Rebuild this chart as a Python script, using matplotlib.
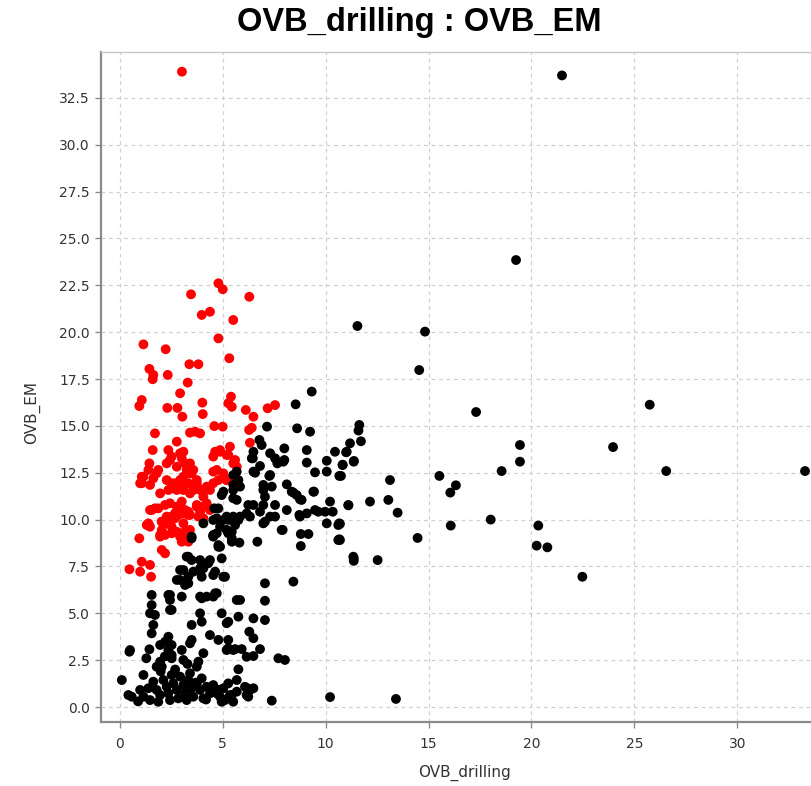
import matplotlib
matplotlib.use("Agg")
import matplotlib.pyplot as plt

# ---------------- data ----------------
black_x = [21.48, 19.25, 11.55, 14.83, 14.55, 17.31, 25.74, 11.64, 11.6, 11.19, 11.72, 11.0, 10.83, 11.37, 10.75,
           19.44, 19.44, 18.55, 23.96, 26.54, 33.28, 15.53, 16.33, 16.06, 13.13, 11.11, 12.16, 13.05, 13.5, 10.7,
           10.7, 14.47, 16.08, 18.02, 20.33, 20.25, 20.77, 22.47, 11.37, 11.37, 12.53, 13.42, 10.22,
           9.33, 8.55, 7.16, 8.62, 9.25, 6.79, 6.9, 6.5, 6.42, 7.31, 8.0, 8.0, 7.55, 7.66, 9.09, 9.09, 10.46, 11.03,
           11.38, 10.06, 10.06, 10.83, 10.67, 9.49, 6.82, 6.58, 7.27, 5.52, 7.01, 7.39, 8.12, 8.44, 8.76, 9.44,
           10.22, 11.11, 5.52, 5.52, 4.96, 6.5, 7.06, 6.98, 7.55, 8.12, 8.73, 9.09, 9.65, 9.98, 10.35, 10.06, 10.67,
           6.17, 6.33, 7.06, 7.55, 7.92, 8.8, 9.17, 8.8, 10.67, 4.55, 4.8, 5.45, 5.82, 6.69, 4.6, 4.8, 5.2, 5.52,
           5.85, 4.07, 4.88, 5.36, 5.52, 5.69, 5.77, 5.85, 5.69, 5.04, 6.98, 6.98, 8.36, 8.6, 8.84, 9.41, 6.25,
           6.82, 7.31, 8.76, 9.49, 10.62, 4.55, 4.72, 5.04, 5.28, 5.77, 5.28, 5.45, 6.98, 7.87, 10.62, 11.35, 6.47,
           7.95, 6.5, 7.31,
           3.5, 4.55, 4.8, 4.96, 3.26, 3.5, 3.1, 2.94, 2.78, 3.58, 3.91, 4.07, 4.23, 4.39, 3.99, 4.64, 5.12, 3.18,
           3.34, 4.72, 4.55, 3.99, 4.23, 1.56, 2.45, 2.45, 3.02, 1.56, 5.69,
           1.72, 2.53, 3.91, 3.99, 3.5, 4.96, 5.2, 1.64, 1.56, 2.37, 2.21, 1.97, 2.53, 3.5, 4.39, 4.8, 5.28, 0.48,
           1.45, 2.37, 2.53, 2.53, 3.02, 4.07, 5.28, 5.52, 1.97, 1.8, 2.05, 3.1, 3.83, 3.75, 1.16, 0.11,
           0.43, 0.59, 1.0, 1.16, 1.4, 1.48, 1.64, 1.8, 1.97, 1.88, 2.13, 2.29, 2.37, 2.45, 2.53, 2.61, 2.78, 2.85,
           2.94, 3.1, 3.18, 3.26, 3.34, 3.42, 3.5, 3.58, 3.75, 3.91, 3.99, 4.07, 4.23, 4.39,
           4.55, 4.8, 5.04, 5.28, 4.88, 5.12, 5.45, 5.69, 5.52,
           7.06, 8.44, 5.85, 7.06, 5.28, 5.77, 6.5, 7.06, 6.3, 6.5, 5.2, 5.61, 5.93, 6.82, 6.17, 6.5, 7.71, 8.03,
           5.77, 5.69, 6.09, 6.33, 6.5, 4.72, 5.36, 6.17, 4.96, 7.39,
           1.48, 2.37, 2.45, 3.42, 3.34, 3.91, 4.31, 4.64, 3.91, 2.94, 3.34, 3.5, 3.91, 4.55, 5.04, 4.88, 4.55,
           4.72, 5.2, 5.45, 5.61, 6.19, 6.25, 0.51, 2.7, 3.3, 0.9, 1.3, 2.0, 4.2, 3.7, 2.2]
black_y = [33.7, 23.85, 20.33, 20.03, 17.98, 15.74, 16.13, 15.05, 14.75, 14.07, 14.18, 13.59, 12.93, 13.09, 12.33,
           13.98, 13.09, 12.59, 13.87, 12.59, 12.59, 12.33, 11.83, 11.44, 12.11, 10.76, 10.96, 11.05, 10.37, 9.77,
           8.91, 9.02, 9.68, 10.0, 9.68, 8.61, 8.52, 6.95, 7.93, 7.8, 7.84, 0.43, 0.53,
           16.83, 16.15, 14.96, 14.87, 14.69, 14.25, 13.98, 13.62, 13.27, 13.54, 13.8, 13.18, 13.27, 13.0, 13.71,
           13.04, 13.62, 13.62, 13.13, 13.14, 12.56, 12.91, 12.33, 12.52, 12.86, 12.5, 12.33, 12.38, 11.76, 11.76,
           11.88, 11.44, 11.08, 11.49, 10.96, 10.78, 11.58, 11.14, 11.31, 10.78, 11.22, 10.78, 10.78, 10.51, 10.25,
           10.33, 10.42, 10.42, 10.42, 9.8, 9.8, 10.33, 10.16, 9.89, 10.16, 9.45, 9.23, 9.23, 8.59, 8.95, 9.12,
           8.64, 8.82, 8.77, 8.82, 10.6, 10.6, 10.16, 10.16, 10.16, 9.8, 9.62, 9.27, 11.85, 12.56, 12.11, 11.76,
           11.05, 11.49, 11.85, 11.58, 11.49, 11.31, 11.05, 11.49, 10.78, 10.42, 10.16, 10.16, 10.51, 9.71, 9.98,
           10.07, 9.98, 9.98, 9.98, 9.27, 9.0, 9.8, 9.45, 8.91, 8.02, 13.27, 13.09, 12.56, 12.38,
           9.09, 9.18, 8.55, 7.93, 8.02, 7.84, 7.31, 6.78, 6.78, 7.22, 7.22, 7.4, 7.67, 7.84, 6.95, 7.22, 6.95, 6.51,
           6.6, 6.07, 5.89, 5.8, 5.89, 5.98, 5.98, 5.71, 5.89, 5.44, 5.71,
           4.91, 5.18, 5.0, 4.55, 4.38, 5.0, 4.47, 4.38, 3.93, 3.75, 3.48, 3.31, 3.31, 3.58, 3.84, 3.58, 3.58, 2.95,
           3.08, 3.04, 2.77, 2.6, 3.04, 2.87, 3.13, 3.04, 2.42, 2.15, 2.15, 2.51, 2.42, 2.15, 1.71, 1.44,
           0.64, 0.55, 0.91, 0.55, 1.0, 0.37, 1.35, 0.91, 0.64, 0.28, 1.44, 1.08, 0.73, 0.37, 1.71, 1.26, 0.91, 0.46,
           1.62, 1.17, 0.73, 0.37, 1.44, 1.8, 1.0, 0.55, 1.26, 0.91, 1.53, 0.46, 1.08, 0.73,
           1.17, 0.91, 1.0, 1.26, 0.55, 0.37, 0.64, 0.82, 0.28,
           6.6, 6.69, 5.71, 5.67, 4.55, 4.82, 4.73, 4.64, 4.02, 3.67, 3.04, 3.09, 3.09, 3.09, 2.68, 2.72, 2.6, 2.51,
           2.01, 1.44, 1.08, 0.91, 1.0, 0.73, 0.64, 0.64, 0.28, 0.34,
           5.0, 5.98, 5.18, 3.4, 6.95, 7.4, 7.67, 6.07, 5.89, 7.31, 8.02, 9.0, 7.84, 7.04, 6.95, 8.55, 9.09,
           9.27, 9.45, 9.35, 9.71, 1.01, 0.55, 3.04, 2.0, 2.3, 0.3, 2.6, 1.9, 0.4, 1.3, 2.7]

red_x = [3.03, 4.8, 5.01, 3.47, 6.3, 3.99, 4.39, 5.52, 4.8, 1.16, 2.24, 5.33, 3.39, 3.83, 1.45, 1.64, 1.61, 2.34,
         3.31, 2.94, 1.08, 0.96, 2.32, 2.81, 4.02, 4.04, 3.05, 5.41, 5.28, 5.45, 6.13, 6.5, 7.19, 7.55, 4.6, 5.01,
         6.29, 6.42, 3.42, 3.67, 3.91, 1.72, 6.33, 2.78, 1.61, 2.37, 2.94, 3.1, 4.64, 5.36, 4.88, 1.45, 2.53, 3.02,
         3.42, 5.61, 5.69, 4.55, 5.2, 1.88, 1.08, 1.08, 1.48, 2.29, 2.53, 3.26, 3.5, 3.75, 3.34, 2.94, 2.78, 3.1,
         3.58, 3.91, 4.23, 4.55, 4.8, 5.2, 1.97, 2.37,
         1.56, 1.88, 2.21, 2.45, 2.78, 3.02, 3.18, 3.34, 3.75, 4.07, 4.23, 1.4, 1.48, 2.05, 2.29, 2.53, 2.05, 2.85,
         3.1, 3.34, 2.53, 2.69, 0.96, 1.97, 2.21, 2.53, 2.78, 3.02, 3.18, 3.26, 3.02, 3.34, 2.05, 2.21, 3.83, 1.08,
         1.48, 0.48, 1.0, 1.53,
         1.32, 1.0, 1.16, 1.4, 1.64, 1.8, 1.48, 1.72,
         2.29, 2.45, 2.78, 3.18, 3.42, 3.58, 3.1, 2.69, 2.53, 3.02, 3.42, 3.75, 3.99, 4.07, 4.39, 4.55, 4.72, 5.04,
         5.2, 5.52, 5.28, 4.88,
         3.75, 3.91, 4.23, 4.39, 4.07, 3.42, 2.94, 2.69, 2.29, 2.05, 3.1, 3.42, 2.94, 1.97]
red_y = [33.9, 22.61, 22.29, 22.02, 21.89, 20.92, 21.09, 20.65, 19.67, 19.35, 19.09, 18.61, 18.29, 18.29, 18.04,
         17.72, 17.49, 17.72, 17.31, 16.74, 16.38, 16.06, 15.96, 15.96, 16.24, 15.63, 15.49, 16.56, 16.21, 16.02,
         15.85, 15.49, 15.94, 16.11, 14.99, 14.96, 14.78, 14.9, 14.64, 14.69, 14.6, 14.6, 14.1, 14.16, 13.71, 13.71,
         13.54, 13.62, 13.62, 13.89, 13.71, 13.0, 13.36, 13.27, 13.0, 13.18, 12.82, 13.36, 13.45, 12.65, 12.29,
         11.94, 11.85, 12.11, 11.94, 12.65, 12.47, 12.11, 11.94, 12.11, 11.58, 11.58, 11.58, 11.58, 11.76, 12.56,
         12.11, 12.11, 11.4, 11.58,
         10.51, 10.6, 10.78, 10.87, 10.69, 10.96, 10.51, 10.42, 10.78, 10.69, 10.87, 9.8, 9.62, 9.89, 9.8, 9.62,
         9.45, 10.25, 10.33, 10.25, 10.16, 10.33, 9.0, 9.09, 9.18, 9.27, 9.35, 9.27, 9.35, 9.09, 8.82, 8.82, 8.38,
         8.2, 10.16, 7.75, 7.58, 7.35, 7.22, 6.95,
         9.71, 11.94, 12.29, 12.65, 12.2, 12.47, 10.51, 10.6,
         13.0, 13.18, 12.82, 13.0, 12.47, 12.65, 12.29, 11.94, 11.67, 11.67, 11.4, 11.94, 11.58, 11.22, 11.58,
         11.94, 12.65, 12.47, 12.11, 13.0, 13.45, 13.62,
         10.69, 10.42, 10.78, 10.51, 10.07, 10.25, 10.42, 10.07, 10.16, 9.89, 9.8, 9.45, 9.09, 9.18]

x_ticks = [0, 5, 10, 15, 20, 25, 30]
y_ticks = [0.0, 2.5, 5.0, 7.5, 10.0, 12.5, 15.0, 17.5, 20.0, 22.5, 25.0, 27.5, 30.0, 32.5]

title = "OVB_drilling : OVB_EM"
x_label = "OVB_drilling"
y_label = "OVB_EM"

# ---------------- figure ----------------
W, H = 811, 786
fig = plt.figure(figsize=(W / 100, H / 100), dpi=100)
fig.patch.set_facecolor("white")
ax = fig.add_axes([101 / W, 1 - 722 / H, (811 - 101) / W, (722 - 52) / H])

ax.scatter(red_x, red_y, s=50, c="#ff0000", edgecolors="none", zorder=3)
ax.scatter(black_x, black_y, s=50, c="#000000", edgecolors="none", zorder=4)

ax.set_xlim(-0.9, 33.57)
ax.set_ylim(-0.8, 34.95)
ax.set_xticks(x_ticks)
ax.set_xticklabels([str(v) for v in x_ticks])
ax.set_yticks(y_ticks)
ax.set_yticklabels([f"{v:.1f}" for v in y_ticks])

ax.grid(True, color="#d0d0d0", linestyle=(0, (3, 3)), linewidth=0.9)
ax.set_axisbelow(True)

for side in ["left", "bottom"]:
    ax.spines[side].set_color("#8a8a8a")
    ax.spines[side].set_linewidth(1.6)
ax.spines["top"].set_color("#c8c8c8")
ax.spines["top"].set_linewidth(1.0)
ax.spines["right"].set_visible(False)

ax.tick_params(axis="both", direction="out", length=4, width=1, color="#8a8a8a",
               labelsize=10, labelcolor="#333333")
ax.tick_params(axis="x", pad=7)
ax.tick_params(axis="y", pad=4)
for lbl in ax.get_xticklabels() + ax.get_yticklabels():
    lbl.set_family("DejaVu Sans")

fig.text(419 / W, 1 - 23 / H, title, ha="center", va="center",
         fontsize=23.5, fontweight="bold", family="Liberation Sans")
fig.text(465 / W, 1 - 773 / H, x_label, ha="center", va="center",
         fontsize=11, color="#333333", family="DejaVu Sans")
fig.text(32 / W, 1 - 413 / H, y_label, ha="center", va="center", rotation=90,
         fontsize=11, color="#333333", family="DejaVu Sans")

fig.savefig("out.png", dpi=100, facecolor="white")
